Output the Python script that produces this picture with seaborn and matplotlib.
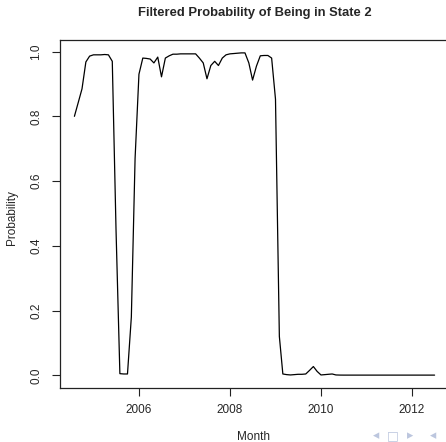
import numpy as np
import pandas as pd
import matplotlib
matplotlib.use("Agg")
import matplotlib.pyplot as plt
import matplotlib.dates as mdates
import seaborn as sns

# probabilidad filtrada, mensual desde 2004-08
months = pd.date_range("2004-08-01", periods=96, freq="MS")
prob = [0.80, 0.843, 0.885, 0.968, 0.986, 0.99, 0.99, 0.99, 0.991, 0.99,
        0.97, 0.45, 0.005, 0.004, 0.004, 0.18, 0.67, 0.93, 0.98, 0.979,
        0.977, 0.965, 0.983, 0.922, 0.98, 0.987, 0.992, 0.992, 0.993, 0.993,
        0.993, 0.993, 0.993, 0.98, 0.965, 0.916, 0.957, 0.97, 0.957, 0.98,
        0.99, 0.993, 0.994, 0.995, 0.996, 0.996, 0.965, 0.912, 0.955, 0.987,
        0.988, 0.988, 0.98, 0.853, 0.12, 0.004, 0.002, 0.001, 0.002, 0.003,
        0.003, 0.004, 0.015, 0.027, 0.012, 0.001, 0.002, 0.003, 0.004, 0.001,
        0.0006, 0.0005, 0.0005, 0.0005, 0.0005, 0.0005, 0.0005, 0.0005, 0.0005, 0.0005,
        0.0005, 0.0005, 0.0005, 0.0005, 0.0005, 0.0005, 0.0005, 0.0005, 0.0005, 0.0005,
        0.0005, 0.0005, 0.0005, 0.0005, 0.0005, 0.0005]
yticks = [0.0, 0.2, 0.4, 0.6, 0.8, 1.0]
xtick_years = [2006, 2008, 2010, 2012]

df = pd.DataFrame({"Month": months, "Probability": prob})

sns.set_style("ticks")
plt.rcParams['font.family'] = ['Liberation Sans', 'DejaVu Sans']

fig = plt.figure(figsize=(4.46, 4.42), dpi=100)
ax = fig.add_axes([60 / 446, 54 / 442, 389 / 446, 348 / 442])

sns.lineplot(data=df, x="Month", y="Probability", color="black", linewidth=0.9, ax=ax)

# limites al estilo R (4% extra)
xn = mdates.date2num(df["Month"])
xr = xn.max() - xn.min()
ax.set_xlim(xn.min() - 0.04 * xr, xn.max() + 0.04 * xr)
yr = max(prob) - min(prob)
ax.set_ylim(min(prob) - 0.04 * yr, max(prob) + 0.04 * yr)

ax.set_yticks(yticks)
ax.set_yticklabels([f"{v:.1f}" for v in yticks], rotation=90, va="center")
ax.set_xticks([mdates.date2num(pd.Timestamp(f"{y}-01-01")) for y in xtick_years])
ax.set_xticklabels([str(y) for y in xtick_years])
ax.tick_params(axis="both", labelsize=8.5, length=5.8, width=0.8, color="#222222")
ax.tick_params(axis="y", pad=7)
ax.tick_params(axis="x", pad=5.5)

for s in ax.spines.values():
    s.set_linewidth(0.9)
    s.set_color("#222222")

ax.set_xlabel("")
ax.set_ylabel("")
fig.text(253 / 446, 1 - 437 / 442, "Month", ha="center", va="center", fontsize=8.5)
fig.text(12 / 446, 1 - 218 / 442, "Probability", ha="center", va="center",
         rotation=90, fontsize=8.5)
fig.text(255 / 446, 1 - 13 / 442, "Filtered Probability of Being in State 2",
         ha="center", va="center", fontsize=9.4, fontweight="bold")

# simbolos de navegacion de beamer
nav = [("◂", 376), ("□", 393), ("▸", 410), ("◂", 433)]
for sym, xp in nav:
    fig.text(xp / 446, 1 - 436 / 442, sym, ha="center", va="center",
             fontsize=9, color="#bcc6de", family=["DejaVu Sans"])

fig.savefig("out.png", dpi=100)
